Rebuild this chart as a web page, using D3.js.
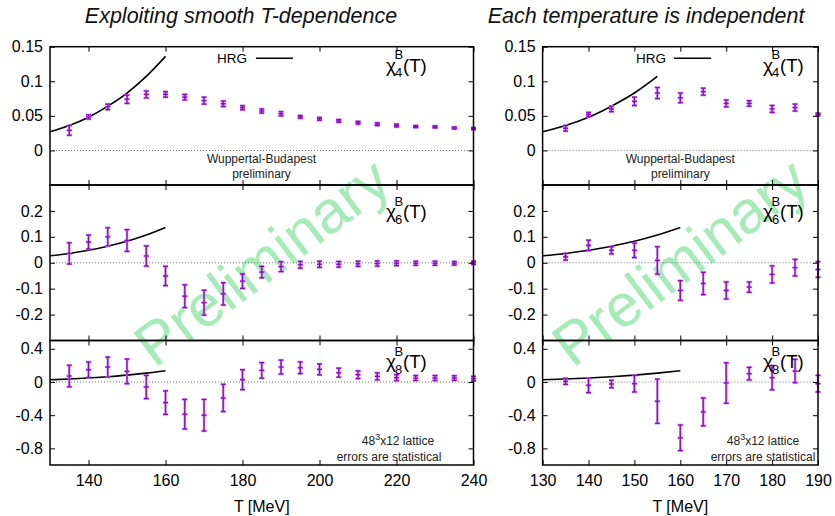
<!DOCTYPE html>
<meta charset="utf-8">
<style>
body { margin: 0; background: #fff; }
svg { font-family: "Liberation Sans", Arial, sans-serif; }
.frame { fill: none; stroke: #000; stroke-width: 1.5; }
.zero { stroke: #777; stroke-width: 1; stroke-dasharray: 1,2; }
.hrg { fill: none; stroke: #000; stroke-width: 1.6; }
.bar-soft { stroke: #c585f0; stroke-width: 2.4; }
.bar { stroke: #9400d3; stroke-width: 1.2; }
.axis path { display: none; }
.axis line { stroke: #000; stroke-width: 1; }
.axis text { font-size: 16px; fill: #000; }
.note { font-size: 12px; fill: #222; }
.title { font-size: 21.5px; font-style: italic; fill: #111; }
.watermark { font-size: 60px; fill: #a4ecb6; }
</style>
<svg width="835" height="516"></svg>
<script src="https://cdn.jsdelivr.net/npm/d3@7"></script>
<script>

// temperatures (MeV)
var tempsL = [135,140,145,150,155,160,165,170,175,180,185,190,195,200,205,210,215,220,225,230,235,240];
var tempsR = [135,140,145,150,155,160,165,170,175,180,185,190];

// left: smooth T-dependence
var chi4L    = [0.029,0.0485,0.063,0.074,0.081,0.081,0.077,0.072,0.0675,0.0617,0.057,0.053,0.0485,0.0456,0.0427,0.040,0.038,0.036,0.0345,0.034,0.0325,0.0316];
var chi4LErr = [0.007,0.003,0.004,0.006,0.005,0.004,0.004,0.005,0.004,0.003,0.003,0.003,0.002,0.002,0.002,0.002,0.002,0.002,0.0015,0.0015,0.0015,0.0015];
var chi6L    = [0.036,0.08,0.1,0.086,0.026,-0.051,-0.129,-0.154,-0.12,-0.071,-0.036,-0.015,-0.008,-0.006,-0.006,-0.004,-0.003,-0.002,-0.002,-0.002,-0.002,0];
var chi6LErr = [0.041,0.027,0.035,0.042,0.039,0.037,0.044,0.048,0.043,0.028,0.022,0.019,0.013,0.012,0.011,0.01,0.01,0.009,0.008,0.008,0.007,0.006];
var chi8L    = [0.072,0.148,0.18,0.128,-0.06,-0.248,-0.388,-0.4,-0.192,0.028,0.14,0.18,0.172,0.152,0.112,0.088,0.068,0.052,0.048,0.048,0.048,0.04];
var chi8LErr = [0.13,0.094,0.12,0.148,0.14,0.142,0.178,0.19,0.164,0.12,0.094,0.084,0.07,0.066,0.054,0.046,0.042,0.036,0.03,0.03,0.028,0.028];

// right: each temperature independent
var chi4R    = [0.032,0.052,0.06,0.071,0.083,0.076,0.085,0.068,0.068,0.06,0.062,0.052];
var chi4RErr = [0.004,0.003,0.004,0.006,0.008,0.007,0.005,0.005,0.004,0.005,0.005,0.002];
var chi6R    = [0.023,0.067,0.048,0.048,0.009,-0.107,-0.08,-0.107,-0.094,-0.045,-0.019,-0.026];
var chi6RErr = [0.013,0.02,0.014,0.028,0.053,0.038,0.043,0.033,0.02,0.033,0.032,0.03];
var chi8R    = [0.008,-0.04,-0.024,-0.02,-0.232,-0.672,-0.36,-0.012,0.1,0.052,0.132,-0.02];
var chi8RErr = [0.036,0.088,0.045,0.1,0.266,0.154,0.168,0.244,0.076,0.146,0.14,0.1];

// HRG curve
var hrgT   = [130,135,140,145,150,155,160];
var hrgVal = [0.027,0.036,0.048,0.064,0.083,0.107,0.136];

// axis ticks
var xTicksL = [140,160,180,200,220,240];
var xTicksR = [130,140,150,160,170,180,190];
var yTicks4 = [0,0.05,0.1,0.15];
var yTicks6 = [-0.2,-0.1,0,0.1,0.2];
var yTicks8 = [-0.8,-0.4,0,0.4];

var svg = d3.select("svg");

var rows = [
  {top: 46.7, bottom: 185,   domain: [-0.05,0.15], ticks: yTicks4, order: "4", labelY: 71.7},
  {top: 185,  bottom: 340.5, domain: [-0.3,0.3],   ticks: yTicks6, order: "6", labelY: 218},
  {top: 340.5,bottom: 465,   domain: [-1.0,0.5],   ticks: yTicks8, order: "8", labelY: 368}
];

var cols = [
  {left: 50,    right: 473.5, domain: [130,240], xticks: xTicksL, temps: tempsL,
   series: [[chi4L,chi4LErr],[chi6L,chi6LErr],[chi8L,chi8LErr]], hrgEnd: [160,160,160],
   title: "Exploiting smooth T-dependence", titleX: 241, labelX: 386, wm: [262,262],
   hrgLegend: [217,256,293], wupX: 261.5, latX: [398,389]},
  {left: 542.6, right: 818,   domain: [130,190], xticks: xTicksR, temps: tempsR,
   series: [[chi4R,chi4RErr],[chi6R,chi6RErr],[chi8R,chi8RErr]], hrgEnd: [155,160,160],
   title: "Each temperature is independent", titleX: 646, labelX: 763, wm: [680,262],
   hrgLegend: [636,674,711], wupX: 680.3, latX: [763,763]}
];

// watermarks behind everything
cols.forEach(function(c){
  svg.append("text")
    .attr("class", "watermark")
    .attr("text-anchor", "middle")
    .attr("dominant-baseline", "central")
    .attr("transform", "translate(" + c.wm[0] + "," + c.wm[1] + ") rotate(-37)")
    .text("Preliminary");
});

function drawPanel(c, r, ri) {
  var x = d3.scaleLinear().domain(c.domain).range([c.left, c.right]);
  var y = d3.scaleLinear().domain(r.domain).range([r.bottom, r.top]);
  var g = svg.append("g");

  // zero line
  g.append("line").attr("class", "zero")
    .attr("x1", c.left).attr("x2", c.right)
    .attr("y1", y(0)).attr("y2", y(0));

  // HRG curve
  var pts = [];
  hrgT.forEach(function(t, i){ if (t <= c.hrgEnd[ri]) pts.push([t, hrgVal[i]]); });
  var line = d3.line().curve(d3.curveMonotoneX)
    .x(function(d){ return x(d[0]); })
    .y(function(d){ return y(d[1]); });
  g.append("path").attr("class", "hrg").attr("d", line(pts));

  // error bars
  var vals = c.series[ri][0], errs = c.series[ri][1];
  var data = c.temps.map(function(t, i){ return {t: t, v: vals[i], e: errs[i]}; });
  ["bar-soft", "bar"].forEach(function(cls){
    var eb = g.selectAll("g." + cls).data(data).enter().append("g").attr("class", cls);
    eb.append("line")
      .attr("x1", function(d){ return x(d.t); }).attr("x2", function(d){ return x(d.t); })
      .attr("y1", function(d){ return y(d.v - d.e); }).attr("y2", function(d){ return y(d.v + d.e); });
    [-1, 0, 1].forEach(function(k){
      eb.append("line")
        .attr("x1", function(d){ return x(d.t) - 2.5; }).attr("x2", function(d){ return x(d.t) + 2.5; })
        .attr("y1", function(d){ return y(d.v + k * d.e); }).attr("y2", function(d){ return y(d.v + k * d.e); });
    });
  });

  // axes, gnuplot style ticks on all four sides, pointing inward
  var showX = ri === 2;
  g.append("g").attr("class", "axis").attr("transform", "translate(0," + r.bottom + ")")
    .call(d3.axisBottom(x).tickValues(c.xticks).tickSize(-5).tickPadding(10)
      .tickFormat(showX ? d3.format("d") : ""));
  g.append("g").attr("class", "axis").attr("transform", "translate(0," + r.top + ")")
    .call(d3.axisTop(x).tickValues(c.xticks).tickSize(-5).tickFormat(""));
  g.append("g").attr("class", "axis").attr("transform", "translate(" + c.left + ",0)")
    .call(d3.axisLeft(y).tickValues(r.ticks).tickSize(-5).tickPadding(7).tickFormat(String));
  g.append("g").attr("class", "axis").attr("transform", "translate(" + c.right + ",0)")
    .call(d3.axisRight(y).tickValues(r.ticks).tickSize(-5).tickFormat(""));

  g.append("rect").attr("class", "frame")
    .attr("x", c.left).attr("y", r.top)
    .attr("width", c.right - c.left).attr("height", r.bottom - r.top);

  // chi label
  var lx = c.labelX, ly = r.labelY;
  g.append("text").attr("x", lx).attr("y", ly).attr("font-size", 19).text("χ");
  g.append("text").attr("x", lx + 9).attr("y", ly + 5.5).attr("font-size", 13).text(r.order);
  g.append("text").attr("x", lx + 8.5).attr("y", ly - 12.5).attr("font-size", 13).text("B");
  g.append("text").attr("x", lx + 17).attr("y", ly).attr("font-size", 18.5).text("(T)");

  if (ri === 0) {
    g.append("text").attr("x", c.hrgLegend[0]).attr("y", 62.7).attr("font-size", 13.5).text("HRG");
    g.append("line").attr("class", "hrg")
      .attr("x1", c.hrgLegend[1]).attr("x2", c.hrgLegend[2]).attr("y1", 58.3).attr("y2", 58.3);
    g.append("text").attr("class", "note").attr("text-anchor", "middle")
      .attr("x", c.wupX).attr("y", 163.3).text("Wuppertal-Budapest");
    g.append("text").attr("class", "note").attr("text-anchor", "middle")
      .attr("x", c.wupX).attr("y", 178.3).text("preliminary");
  }
  if (ri === 2) {
    var t1 = g.append("text").attr("class", "note").attr("text-anchor", "middle")
      .attr("x", c.latX[0]).attr("y", 445);
    t1.append("tspan").text("48");
    t1.append("tspan").attr("dy", -5).attr("font-size", 9).text("3");
    t1.append("tspan").attr("dy", 5).text("x12 lattice");
    g.append("text").attr("class", "note").attr("text-anchor", "middle")
      .attr("x", c.latX[1]).attr("y", 461).text("errors are statistical");
    g.append("text").attr("text-anchor", "middle").attr("font-size", 16)
      .attr("x", (c.left + c.right) / 2).attr("y", 511.7).text("T [MeV]");
  }
}

cols.forEach(function(c){
  rows.forEach(function(r, ri){ drawPanel(c, r, ri); });
  svg.append("text").attr("class", "title").attr("text-anchor", "middle")
    .attr("x", c.titleX).attr("y", 23).text(c.title);
});

</script>
